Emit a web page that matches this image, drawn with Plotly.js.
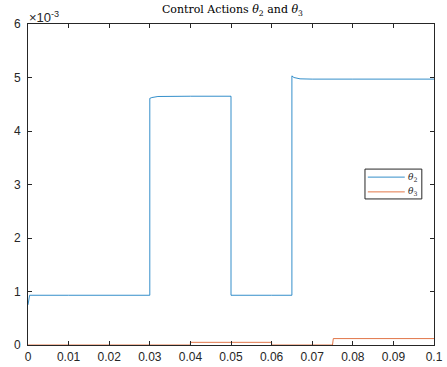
<!DOCTYPE html>
<html>
<head>
<meta charset="utf-8">
<script src="https://cdn.plot.ly/plotly-3.0.1.min.js"></script>
<style>html,body{margin:0;padding:0;background:#fff;}#chart{width:447px;height:367px;}</style>
</head>
<body>
<div id="chart"></div>
<script>
// time (s)
var timeTheta2 = [0, 0.0004, 0.01, 0.02, 0.03, 0.03, 0.0305, 0.032, 0.035, 0.04, 0.05, 0.05, 0.06, 0.065, 0.065, 0.0655, 0.067, 0.07, 0.08, 0.09, 0.1];
// theta2 values in units of 1e-3
var theta2 = [0.75, 0.93, 0.93, 0.93, 0.93, 4.61, 4.625, 4.645, 4.65, 4.65, 4.65, 0.93, 0.93, 0.93, 5.03, 5.0, 4.975, 4.97, 4.97, 4.97, 4.97];
var timeTheta3 = [0, 0.04, 0.04, 0.06, 0.06, 0.075, 0.0752, 0.1];
// theta3 values in units of 1e-3
var theta3 = [0, 0, 0.05, 0.05, 0, 0, 0.12, 0.12];
var seriesNames = ['<i>θ</i><sub>2</sub>', '<i>θ</i><sub>3</sub>'];
var xTicks = [0, 0.01, 0.02, 0.03, 0.04, 0.05, 0.06, 0.07, 0.08, 0.09, 0.1];
var xTickText = ['0', '0.01', '0.02', '0.03', '0.04', '0.05', '0.06', '0.07', '0.08', '0.09', '0.1'];
var yTicks = [0, 1, 2, 3, 4, 5, 6];

var colors = ['#0072BD', '#D95319'];
var axisColor = '#262626';
var tickFont = {family: 'Liberation Sans, Arial, sans-serif', size: 12, color: axisColor};
var traces = [
  {x: timeTheta2, y: theta2, type: 'scatter', mode: 'lines', name: seriesNames[0],
   line: {color: colors[0], width: 0.8}},
  {x: timeTheta3, y: theta3, type: 'scatter', mode: 'lines', name: seriesNames[1],
   line: {color: colors[1], width: 0.8}}
];

// legend box drawn in paper space
var legBox = {x0: 0.830, x1: 0.970, y0: 0.455, y1: 0.548};
var legRows = [0.523, 0.477];
var shapes = [{type: 'rect', xref: 'paper', yref: 'paper', x0: legBox.x0, x1: legBox.x1, y0: legBox.y0, y1: legBox.y1,
               line: {color: axisColor, width: 1}, fillcolor: '#fff', layer: 'above'}];
var annotations = [{text: '×10<sup>-3</sup>', xref: 'paper', yref: 'paper', x: 0, y: 1, xanchor: 'left', yanchor: 'bottom',
                 showarrow: false, font: {family: 'Liberation Sans, Arial, sans-serif', size: 13, color: axisColor}, xshift: -1, yshift: -3}];
for (var i = 0; i < seriesNames.length; i++) {
  shapes.push({type: 'line', xref: 'paper', yref: 'paper', x0: 0.837, x1: 0.928, y0: legRows[i], y1: legRows[i],
               line: {color: colors[i], width: 0.8}, layer: 'above'});
  annotations.push({text: seriesNames[i], xref: 'paper', yref: 'paper', x: 0.932, y: legRows[i], xanchor: 'left', yanchor: 'middle',
                    showarrow: false, font: {family: 'DejaVu Serif, Liberation Serif, serif', size: 9, color: axisColor}});
}

var layout = {
  width: 447, height: 367,
  margin: {l: 28, r: 13, t: 24, b: 22},
  paper_bgcolor: '#fff', plot_bgcolor: '#fff',
  showlegend: false,
  title: {text: 'Control Actions <i>θ</i><sub>2</sub> and <i>θ</i><sub>3</sub>',
          font: {family: 'DejaVu Serif, Liberation Serif, serif', size: 11, color: '#000'},
          x: 0.52, xanchor: 'center', y: 0.985, yanchor: 'top'},
  xaxis: {range: [0, 0.1], tickvals: xTicks, ticktext: xTickText, ticks: 'inside', ticklen: 4,
          tickcolor: axisColor, showline: true, linecolor: axisColor, linewidth: 1, mirror: 'ticks',
          showgrid: false, zeroline: false, ticklabelstandoff: 1, tickfont: tickFont},
  yaxis: {range: [0, 6], tickvals: yTicks, ticks: 'inside', ticklen: 4,
          tickcolor: axisColor, showline: true, linecolor: axisColor, linewidth: 1, mirror: 'ticks',
          showgrid: false, zeroline: false, ticklabelstandoff: 4, tickfont: tickFont},
  shapes: shapes,
  annotations: annotations
};
Plotly.newPlot('chart', traces, layout, {displayModeBar: false, staticPlot: true});
</script>
</body>
</html>
